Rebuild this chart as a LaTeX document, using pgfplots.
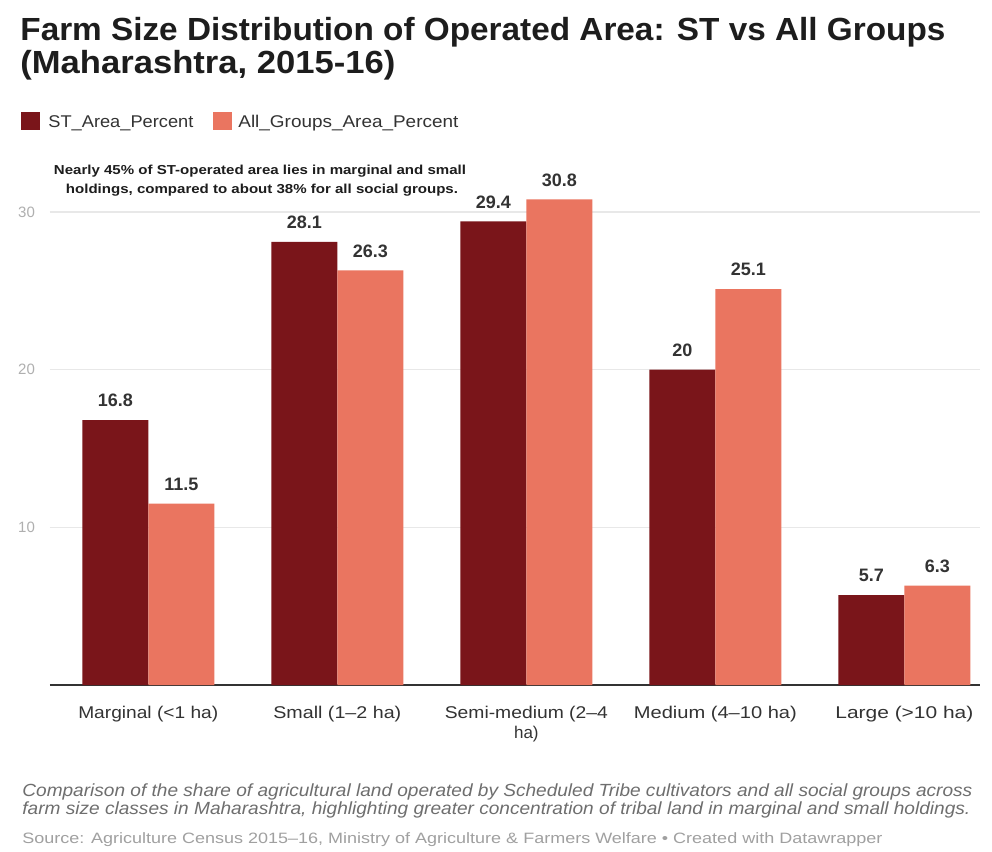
\documentclass[border=0pt]{standalone}
\usepackage{pgfplots}
\pgfplotsset{compat=1.18}
\usepackage{fontspec}
\setmainfont{Liberation Sans}
\usepackage{graphicx}
\definecolor{stc}{RGB}{122,21,26}
\definecolor{allc}{RGB}{234,117,96}
\definecolor{titc}{RGB}{29,29,29}
\definecolor{txc}{RGB}{51,51,51}
\definecolor{capc}{RGB}{110,110,110}
\definecolor{srcc}{RGB}{160,160,160}
\definecolor{gridc}{RGB}{232,232,232}
\definecolor{ytc}{RGB}{175,175,175}
\newcommand{\fw}[2]{\resizebox{#1}{\height}{#2}}
\begin{document}
\begin{tikzpicture}
\begin{scope}[x=0.5pt,y=-0.5pt]
\fill[white] (0,0) rectangle (992,852);
% title
\node[anchor=base west, inner sep=0, text=titc, font=\fontsize{16}{19}\selectfont\bfseries] at (20,40) {\fw{462.5pt}{Farm Size Distribution of Operated Area: ST vs All Groups}};
\node[anchor=base west, inner sep=0, text=titc, font=\fontsize{16}{19}\selectfont\bfseries] at (20,73) {\fw{187.5pt}{(Maharashtra, 2015-16)}};
% legend
\fill[stc] (21,112) rectangle (40,130);
\node[anchor=base west, inner sep=0, text=txc, font=\fontsize{8.5}{10}\selectfont] at (48,127) {\fw{72.5pt}{ST\_Area\_Percent}};
\fill[allc] (213,112) rectangle (232,130);
\node[anchor=base west, inner sep=0, text=txc, font=\fontsize{8.5}{10}\selectfont] at (238,127) {\fw{110pt}{All\_Groups\_Area\_Percent}};
% annotation
\node[anchor=base, inner sep=0, text=titc, font=\fontsize{6.5}{8}\selectfont\bfseries] at (260,174) {\fw{206pt}{Nearly 45\% of ST-operated area lies in marginal and small}};
\node[anchor=base, inner sep=0, text=titc, font=\fontsize{6.5}{8}\selectfont\bfseries] at (262,193) {\fw{196pt}{holdings, compared to about 38\% for all social groups.}};
% caption
\node[anchor=base west, inner sep=0, text=capc, font=\fontsize{8.8}{10}\selectfont\itshape] at (22,796) {\fw{475pt}{Comparison of the share of agricultural land operated by Scheduled Tribe cultivators and all social groups across}};
\node[anchor=base west, inner sep=0, text=capc, font=\fontsize{8.8}{10}\selectfont\itshape] at (22,814) {\fw{474pt}{farm size classes in Maharashtra, highlighting greater concentration of tribal land in marginal and small holdings.}};
\node[anchor=base west, inner sep=0, text=srcc, font=\fontsize{7.5}{9}\selectfont] at (22,843) {\fw{430pt}{Source: Agriculture Census 2015--16, Ministry of Agriculture \& Farmers Welfare \textbullet{} Created with Datawrapper}};
\end{scope}
\begin{axis}[at={(25pt,-342.5pt)}, anchor=south west, scale only axis,
  width=465pt, height=244.4pt,
  xmin=-0.52, xmax=4.4, ymin=0, ymax=31,
  ybar=0pt, bar width=33pt,
  axis line style={draw=none}, tick style={draw=none},
  ytick={10,20,30}, ymajorgrids,
  grid style={gridc, line width=0.8pt},
  extra y ticks={0}, extra y tick labels={},
  extra y tick style={grid style={color=txc, line width=1.1pt}},
  yticklabel style={text=ytc, font=\fontsize{7.5}{9}\selectfont, xshift=-4pt},
  xtick={0,1,2,3,4},
  xticklabels={{\fw{70pt}{Marginal (<1 ha)}},{\fw{64pt}{Small (1--2 ha)}},{\begin{tabular}[t]{@{}c@{}}\fw{81.5pt}{Semi-medium (2--4}\\[0pt]ha)\end{tabular}},{\fw{81.5pt}{Medium (4--10 ha)}},{\fw{69pt}{Large (>10 ha)}}},
  xticklabel style={font=\fontsize{8.5}{10}\selectfont, text=txc, anchor=base, yshift=-12.5pt},
  nodes near coords,
  every node near coord/.append style={font=\fontsize{9}{10}\selectfont\bfseries, text=txc, yshift=3pt},
  /pgf/number format/assume math mode=true,
  clip=false]
\addplot[fill=stc, draw=none] coordinates {(0,16.8) (1,28.1) (2,29.4) (3,20) (4,5.7)};
\addplot[fill=allc, draw=none] coordinates {(0,11.5) (1,26.3) (2,30.8) (3,25.1) (4,6.3)};
\end{axis}
\end{tikzpicture}
\end{document}
